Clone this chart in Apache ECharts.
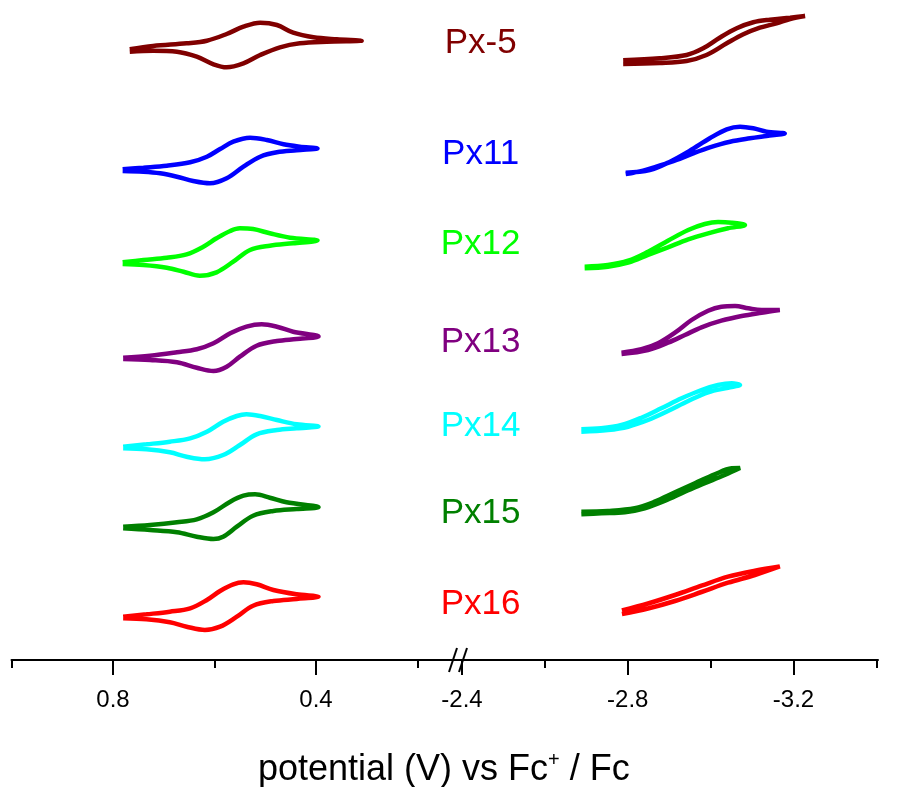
<!DOCTYPE html>
<html>
<head>
<meta charset="utf-8">
<script src="https://cdn.jsdelivr.net/npm/echarts@6/dist/echarts.min.js"></script>
<style>
  html, body { margin: 0; padding: 0; background: #ffffff; }
  #chart { width: 901px; height: 787px; }
</style>
</head>
<body>
<div id="chart"></div>
<script>
// Compounds, in stacking order (top to bottom)
const compounds = ['Px-5', 'Px11', 'Px12', 'Px13', 'Px14', 'Px15', 'Px16'];
const colors = ['#800000', '#0000ff', '#00ff00', '#800080', '#00ffff', '#008000', '#ff0000'];

// Tick values for the broken potential axis (V vs Fc+/Fc)
const leftMajorTicks = [0.8, 0.4];
const leftMinorTicks = [1.0, 0.6, 0.2];
const rightMajorTicks = [-2.4, -2.8, -3.2];
const rightMinorTicks = [-2.6, -3.0, -3.4];

// Oxidation scans: [E / V, current (stacked, arb. units)]
const oxPx5 = [
  [0.767, 610.7], [0.721, 614], [0.655, 616.7], [0.615, 619.3], [0.576, 626], [0.543, 633.3],
  [0.510, 637.3], [0.477, 635], [0.445, 627.3], [0.405, 622.7], [0.359, 620.7], [0.310, 619.3],
  [0.379, 618.3], [0.432, 616.7], [0.471, 612.7], [0.510, 605], [0.543, 596.7], [0.576, 592.7],
  [0.602, 595.7], [0.635, 603.3], [0.674, 608.3], [0.721, 609.3], [0.767, 608.3]
];
const oxPx11 = [
  [0.781, 490.7], [0.740, 492.3], [0.694, 494.3], [0.648, 497.7], [0.615, 503.3], [0.589, 511],
  [0.563, 518.3], [0.530, 522.3], [0.497, 520], [0.464, 515.7], [0.432, 513.3], [0.397, 511.5],
  [0.438, 509.7], [0.477, 507.7], [0.510, 503.3], [0.543, 493.3], [0.576, 481.7], [0.609, 476.7],
  [0.642, 479], [0.674, 483.3], [0.707, 486.7], [0.740, 488.3], [0.781, 489]
];
const oxPx12 = [
  [0.781, 397.7], [0.740, 400], [0.694, 402.3], [0.655, 405.7], [0.622, 413.3], [0.596, 421.7],
  [0.569, 429], [0.550, 431.7], [0.524, 431], [0.491, 426.7], [0.451, 422.3], [0.397, 419.5],
  [0.445, 416.7], [0.491, 414.3], [0.530, 410], [0.563, 398.3], [0.596, 387.7], [0.629, 384.3],
  [0.661, 388.3], [0.694, 392.3], [0.740, 395], [0.781, 396]
];
const oxPx13 = [
  [0.780, 302.3], [0.727, 304.3], [0.674, 307.7], [0.635, 310.7], [0.602, 316.7], [0.569, 326.7],
  [0.537, 333.3], [0.507, 335.7], [0.477, 333.3], [0.445, 328.3], [0.395, 323.5],
  [0.438, 321], [0.477, 319], [0.517, 314.3], [0.550, 303.3], [0.576, 293.3], [0.602, 289],
  [0.635, 292.3], [0.674, 297.7], [0.727, 300], [0.780, 301]
];
const oxPx14 = [
  [0.780, 213.3], [0.734, 215.7], [0.688, 218.3], [0.648, 221.7], [0.615, 228.3], [0.583, 238.3],
  [0.556, 244], [0.537, 245.7], [0.510, 244], [0.477, 240], [0.438, 235.7], [0.395, 233.5],
  [0.438, 231.7], [0.477, 230], [0.517, 225.7], [0.550, 215], [0.583, 205], [0.619, 200.7],
  [0.655, 203.3], [0.688, 207.7], [0.734, 210.7], [0.780, 211.7]
];
const oxPx15 = [
  [0.780, 133.3], [0.727, 135], [0.674, 137.7], [0.635, 140.7], [0.602, 147.7], [0.569, 158.3],
  [0.543, 164.3], [0.520, 165.7], [0.491, 162.3], [0.458, 157.7], [0.395, 152.8],
  [0.438, 151], [0.484, 149], [0.524, 144.3], [0.556, 133.3], [0.583, 123.3], [0.602, 121],
  [0.635, 123.3], [0.674, 127.7], [0.727, 130], [0.780, 131.7]
];
const oxPx16 = [
  [0.780, 43.3], [0.734, 45.7], [0.688, 48.3], [0.648, 51.7], [0.615, 60], [0.589, 69],
  [0.563, 75.7], [0.543, 77.7], [0.517, 75.7], [0.484, 70], [0.438, 65.7], [0.395, 63.2],
  [0.438, 61], [0.484, 59], [0.524, 54.3], [0.556, 43.3], [0.589, 33.3], [0.619, 30],
  [0.655, 33.3], [0.688, 37.7], [0.734, 40.7], [0.780, 41.7]
];

// Reduction scans: [E / V, current (stacked, arb. units)]
const redPx5 = [
  [-2.789, 599.7], [-2.877, 601.7], [-2.942, 605], [-2.982, 611.7], [-3.022, 622.3], [-3.063, 631.7],
  [-3.103, 637.7], [-3.143, 640.3], [-3.192, 642.3], [-3.228, 644],
  [-3.192, 641], [-3.159, 636.7], [-3.119, 632.3], [-3.079, 625.7], [-3.039, 616.7], [-2.990, 605],
  [-2.942, 599], [-2.877, 597], [-2.789, 596]
];
const redPx11 = [
  [-2.795, 487.3], [-2.853, 490], [-2.902, 498.3], [-2.950, 509.3], [-2.998, 521.7], [-3.039, 530.7],
  [-3.071, 533.3], [-3.103, 531.7], [-3.135, 528.3], [-3.179, 526.5],
  [-3.135, 524], [-3.095, 521.7], [-3.047, 518.3], [-2.998, 512.7], [-2.958, 506.7], [-2.918, 500],
  [-2.869, 493.3], [-2.837, 489.3], [-2.795, 486]
];
const redPx12 = [
  [-2.696, 393.3], [-2.752, 395], [-2.801, 399.3], [-2.849, 408.3], [-2.897, 419.3], [-2.946, 430],
  [-2.986, 436], [-3.018, 438], [-3.051, 437.3], [-3.083, 435],
  [-3.042, 431.7], [-2.994, 426.7], [-2.946, 420.7], [-2.897, 412.7], [-2.849, 405], [-2.801, 397.3],
  [-2.752, 393.3], [-2.696, 391.7]
];
const redPx13 = [
  [-2.785, 307.3], [-2.833, 310.7], [-2.873, 316.7], [-2.914, 327.3], [-2.954, 340], [-2.994, 349.3],
  [-3.026, 353.3], [-3.059, 354], [-3.091, 351.7], [-3.123, 350], [-3.167, 350],
  [-3.123, 347.3], [-3.075, 344], [-3.026, 339.3], [-2.978, 332.7], [-2.938, 325], [-2.897, 317.3],
  [-2.849, 310], [-2.785, 306]
];
const redPx14 = [
  [-2.688, 230.7], [-2.736, 231.7], [-2.785, 235], [-2.833, 242.3], [-2.881, 251.7], [-2.930, 261.7],
  [-2.978, 270], [-3.018, 275], [-3.051, 276.7], [-3.071, 275],
  [-3.042, 272.3], [-2.994, 267.7], [-2.946, 259], [-2.897, 249], [-2.849, 240], [-2.801, 233.3],
  [-2.752, 230], [-2.688, 228.3]
];
const redPx15 = [
  [-2.688, 148.3], [-2.752, 149], [-2.817, 151.7], [-2.865, 158.3], [-2.914, 167.7], [-2.962, 176.7],
  [-3.010, 185.7], [-3.051, 191.7], [-3.071, 192],
  [-3.034, 185], [-2.986, 176.7], [-2.938, 168.3], [-2.889, 159], [-2.841, 151.7], [-2.793, 147.7],
  [-2.736, 146.7], [-2.688, 145.7]
];
const redPx16 = [
  [-2.786, 49.5], [-2.849, 56.5], [-2.914, 65], [-2.978, 74.3], [-3.042, 83.3], [-3.107, 89.3], [-3.167, 93.5],
  [-3.107, 85], [-3.042, 77.3], [-2.978, 68], [-2.914, 59], [-2.849, 51.5], [-2.786, 46]
];

const oxScans = [oxPx5, oxPx11, oxPx12, oxPx13, oxPx14, oxPx15, oxPx16];
const redScans = [redPx5, redPx11, redPx12, redPx13, redPx14, redPx15, redPx16];
// current level at which each compound's name is written
const labelLevels = [617, 506, 416, 318, 234, 147, 56];

const FONT = '"Liberation Sans", Arial, Helvetica, sans-serif';
const chart = echarts.init(document.getElementById('chart'), null, { renderer: 'canvas' });

const tickFmt = v => v.toFixed(1);

function mainAxis(gridIndex, min, max, ticks) {
  return {
    type: 'value', gridIndex, min, max, inverse: true, position: 'bottom',
    axisLine: { show: true, onZero: false, lineStyle: { color: '#000', width: 2 } },
    axisTick: { show: true, customValues: ticks, length: 15, inside: false, lineStyle: { color: '#000', width: 2 } },
    axisLabel: { show: true, customValues: ticks, formatter: tickFmt, color: '#000', fontSize: 24, fontFamily: FONT, margin: 28 },
    splitLine: { show: false }
  };
}
function minorAxis(gridIndex, min, max, ticks) {
  return {
    type: 'value', gridIndex, min, max, inverse: true, position: 'bottom',
    axisLine: { show: false, onZero: false },
    axisTick: { show: true, customValues: ticks, length: 8, lineStyle: { color: '#000', width: 2 } },
    axisLabel: { show: false },
    splitLine: { show: false }
  };
}

const series = [];
compounds.forEach((name, i) => {
  series.push({
    name, type: 'line', xAxisIndex: 0, yAxisIndex: 0, data: oxScans[i],
    smooth: 0.35, showSymbol: false, clip: false,
    lineStyle: { color: colors[i], width: 4.5 }
  });
  series.push({
    name, type: 'line', xAxisIndex: 2, yAxisIndex: 1, data: redScans[i],
    smooth: 0.35, showSymbol: false, clip: false,
    lineStyle: { color: colors[i], width: 4.5 }
  });
});

// compound names, placed in the gap between the two scan windows
series.push({
  type: 'scatter', xAxisIndex: 2, yAxisIndex: 1, symbolSize: 0, silent: true,
  itemStyle: { opacity: 1 },
  data: compounds.map((n, i) => ({
    value: [-2.445, labelLevels[i]], name: n,
    label: { color: colors[i] }
  })),
  label: {
    show: true, position: 'inside', formatter: p => p.name,
    fontSize: 35, fontFamily: FONT, opacity: 1
  }
});

const leftMin = 0.12, leftMax = 1.0;
const rightMin = -3.404, rightMax = -2.3906;

chart.setOption({
  animation: false,
  backgroundColor: '#ffffff',
  grid: [
    { left: 11.5, top: 0, width: 446.6, bottom: 127, containLabel: false },
    { left: 458.1, top: 0, width: 419.9, bottom: 127, containLabel: false }
  ],
  xAxis: [
    mainAxis(0, leftMin, leftMax, leftMajorTicks),
    minorAxis(0, leftMin, leftMax, leftMinorTicks),
    mainAxis(1, rightMin, rightMax, rightMajorTicks),
    minorAxis(1, rightMin, rightMax, rightMinorTicks)
  ],
  yAxis: [
    { type: 'value', gridIndex: 0, min: 0, max: 660, show: false },
    { type: 'value', gridIndex: 1, min: 0, max: 660, show: false }
  ],
  series,
  graphic: [
    // axis break marks
    { type: 'line', shape: { x1: 449, y1: 672, x2: 457, y2: 648 }, style: { stroke: '#000', lineWidth: 2 }, z: 10 },
    { type: 'line', shape: { x1: 459, y1: 672, x2: 467, y2: 648 }, style: { stroke: '#000', lineWidth: 2 }, z: 10 },
    // axis title
    {
      type: 'text', left: 258, top: 750,
      style: {
        text: '{a|potential (V) vs Fc}{s|+}{a| / Fc}',
        rich: {
          a: { fontSize: 36, fontFamily: FONT, fill: '#000', lineHeight: 40 },
          s: { fontSize: 20, fontFamily: FONT, fill: '#000', verticalAlign: 'top', lineHeight: 40, padding: [0, 0, 18, 0] }
        }
      }
    }
  ]
});
</script>
</body>
</html>
